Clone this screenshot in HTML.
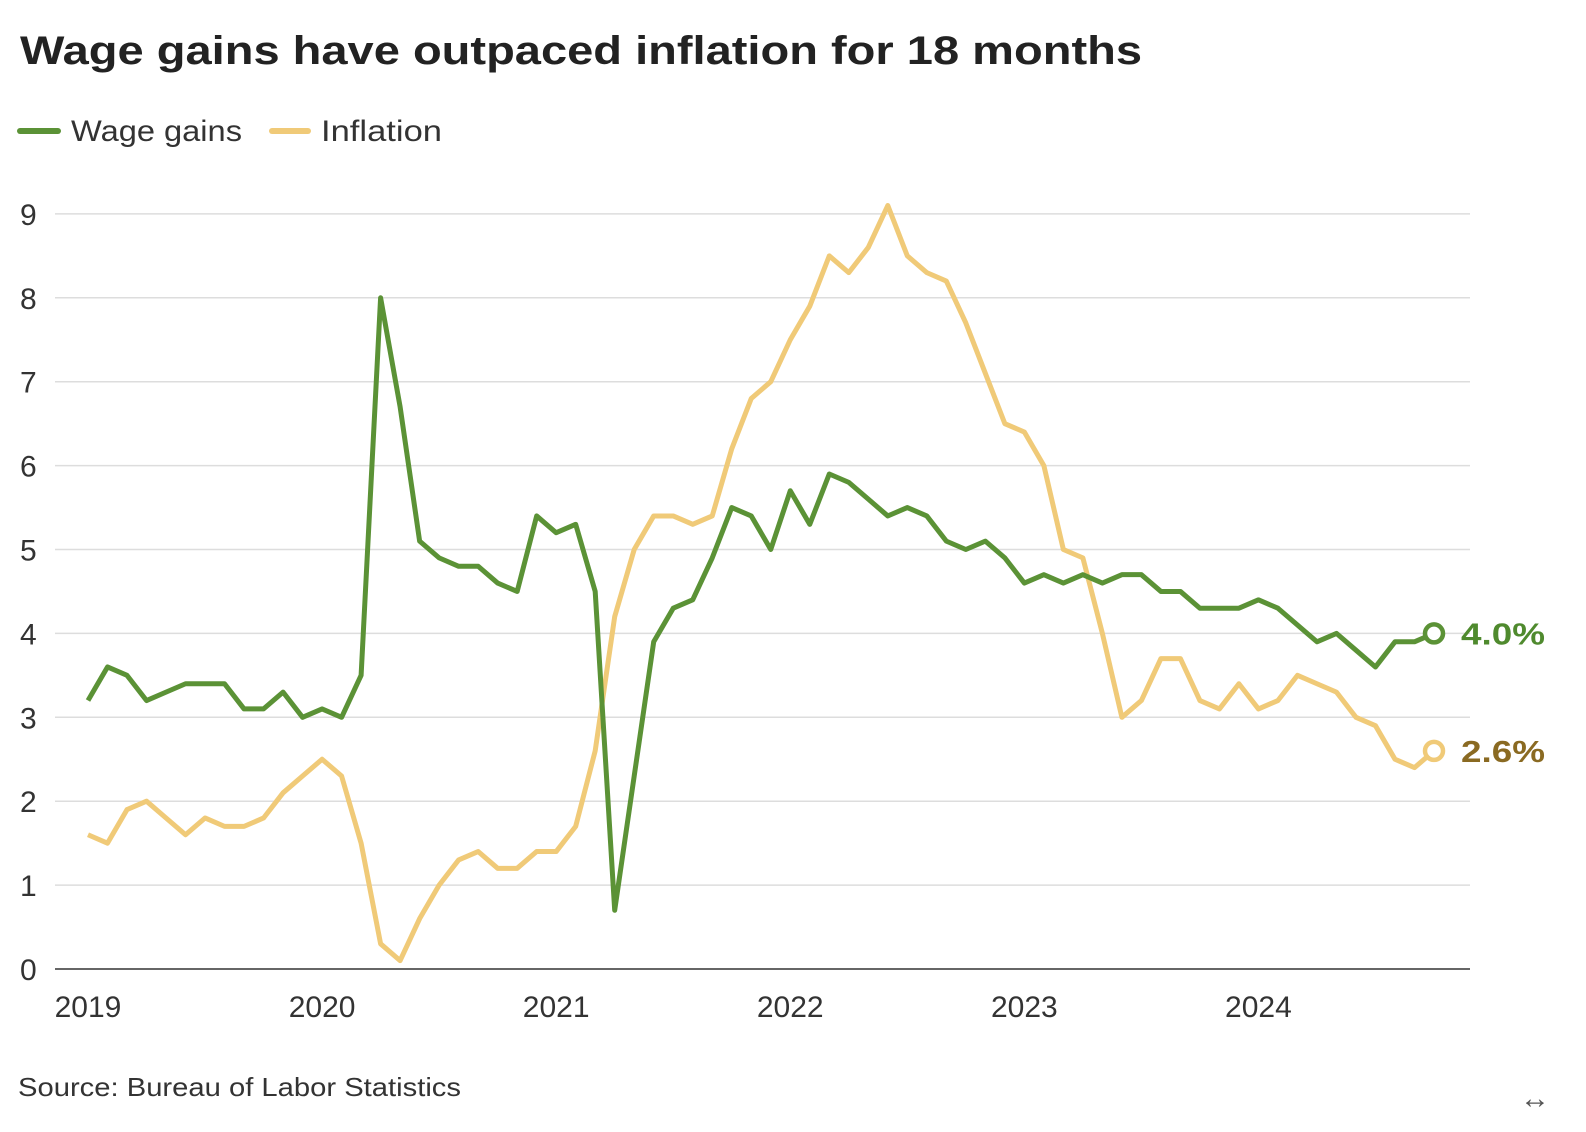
<!DOCTYPE html>
<html><head><meta charset="utf-8"><style>
body{margin:0;background:#fff;font-family:"Liberation Sans",sans-serif;color:#222;}
#wrap{position:relative;width:1586px;height:1132px;overflow:hidden;}
</style></head><body>
<div id="wrap">
<svg id="chart" width="1586" height="1132">
<text x="20" y="64" font-size="40" font-weight="bold" fill="#222" textLength="1122" lengthAdjust="spacingAndGlyphs">Wage gains have outpaced inflation for 18 months</text>
<g>
<line x1="20" y1="131" x2="58" y2="131" stroke="#5b9236" stroke-width="6" stroke-linecap="round"/>
<text x="71" y="141" font-size="30" fill="#333" textLength="171" lengthAdjust="spacingAndGlyphs">Wage gains</text>
<line x1="272" y1="131" x2="308" y2="131" stroke="#f0ca78" stroke-width="6" stroke-linecap="round"/>
<text x="321" y="141" font-size="30" fill="#333" textLength="121" lengthAdjust="spacingAndGlyphs">Inflation</text>
</g>
<g id="grid"></g><g id="series"></g>
<text x="18" y="1096" font-size="26" fill="#333" textLength="443" lengthAdjust="spacingAndGlyphs">Source: Bureau of Labor Statistics</text>
<text x="1520" y="1108" font-size="30" fill="#555">↔</text>
</svg>
</div>
<script>
const yTicks=[0,1,2,3,4,5,6,7,8,9];
const xYears=[2019,2020,2021,2022,2023,2024];
const wage=[3.2,3.6,3.5,3.2,3.3,3.4,3.4,3.4,3.1,3.1,3.3,3.0,3.1,3.0,3.5,8.0,6.7,5.1,4.9,4.8,4.8,4.6,4.5,5.4,5.2,5.3,4.5,0.7,2.3,3.9,4.3,4.4,4.9,5.5,5.4,5.0,5.7,5.3,5.9,5.8,5.6,5.4,5.5,5.4,5.1,5.0,5.1,4.9,4.6,4.7,4.6,4.7,4.6,4.7,4.7,4.5,4.5,4.3,4.3,4.3,4.4,4.3,4.1,3.9,4.0,3.8,3.6,3.9,3.9,4.0];
const inflation=[1.6,1.5,1.9,2.0,1.8,1.6,1.8,1.7,1.7,1.8,2.1,2.3,2.5,2.3,1.5,0.3,0.1,0.6,1.0,1.3,1.4,1.2,1.2,1.4,1.4,1.7,2.6,4.2,5.0,5.4,5.4,5.3,5.4,6.2,6.8,7.0,7.5,7.9,8.5,8.3,8.6,9.1,8.5,8.3,8.2,7.7,7.1,6.5,6.4,6.0,5.0,4.9,4.0,3.0,3.2,3.7,3.7,3.2,3.1,3.4,3.1,3.2,3.5,3.4,3.3,3.0,2.9,2.5,2.4,2.6];
const NS="http://www.w3.org/2000/svg";
const y=v=>969-v*83.9;
const x=i=>88+i*(1434-88)/69;
const grid=document.getElementById('grid'),ser=document.getElementById('series');
function mk(tag,attrs,parent){const e=document.createElementNS(NS,tag);for(const k in attrs)e.setAttribute(k,attrs[k]);parent.appendChild(e);return e;}
yTicks.forEach(t=>{
 const l=mk('line',{x1:55,x2:1470,y1:y(t),y2:y(t),stroke:t===0?'#333':'#ddd','stroke-width':1.5},grid);
 
 
 const tx=mk('text',{x:20,y:y(t)+11,'font-size':30,fill:'#333'},grid);tx.textContent=t;
 
 
});
xYears.forEach((yr,k)=>{
 const tx=mk('text',{x:x(k*12),y:1017,'font-size':30,fill:'#333','text-anchor':'middle'},grid);tx.textContent=yr;
 
 
});
function drawLine(data,color,name,lcolor){
 const p=mk('polyline',{points:data.map((v,i)=>x(i)+','+y(v)).join(' '),fill:'none',stroke:color,'stroke-width':5,'stroke-linejoin':'round'},ser);
 
 
 const n=data.length-1;
 const c=mk('circle',{cx:x(n),cy:y(data[n]),r:9,fill:'#fff',stroke:color,'stroke-width':4.5},ser);
 
 
 const t=mk('text',{x:x(n)+27,y:y(data[n])+11,'font-size':31,'font-weight':'bold',fill:lcolor,textLength:84,lengthAdjust:'spacingAndGlyphs'},ser);
 t.textContent=data[n].toFixed(1)+'%';
 
 
}
drawLine(inflation,'#f0ca78','inflation',"#8a6a22");
drawLine(wage,'#5b9236','wage',"#4f8a2e");
</script>
</body></html>
